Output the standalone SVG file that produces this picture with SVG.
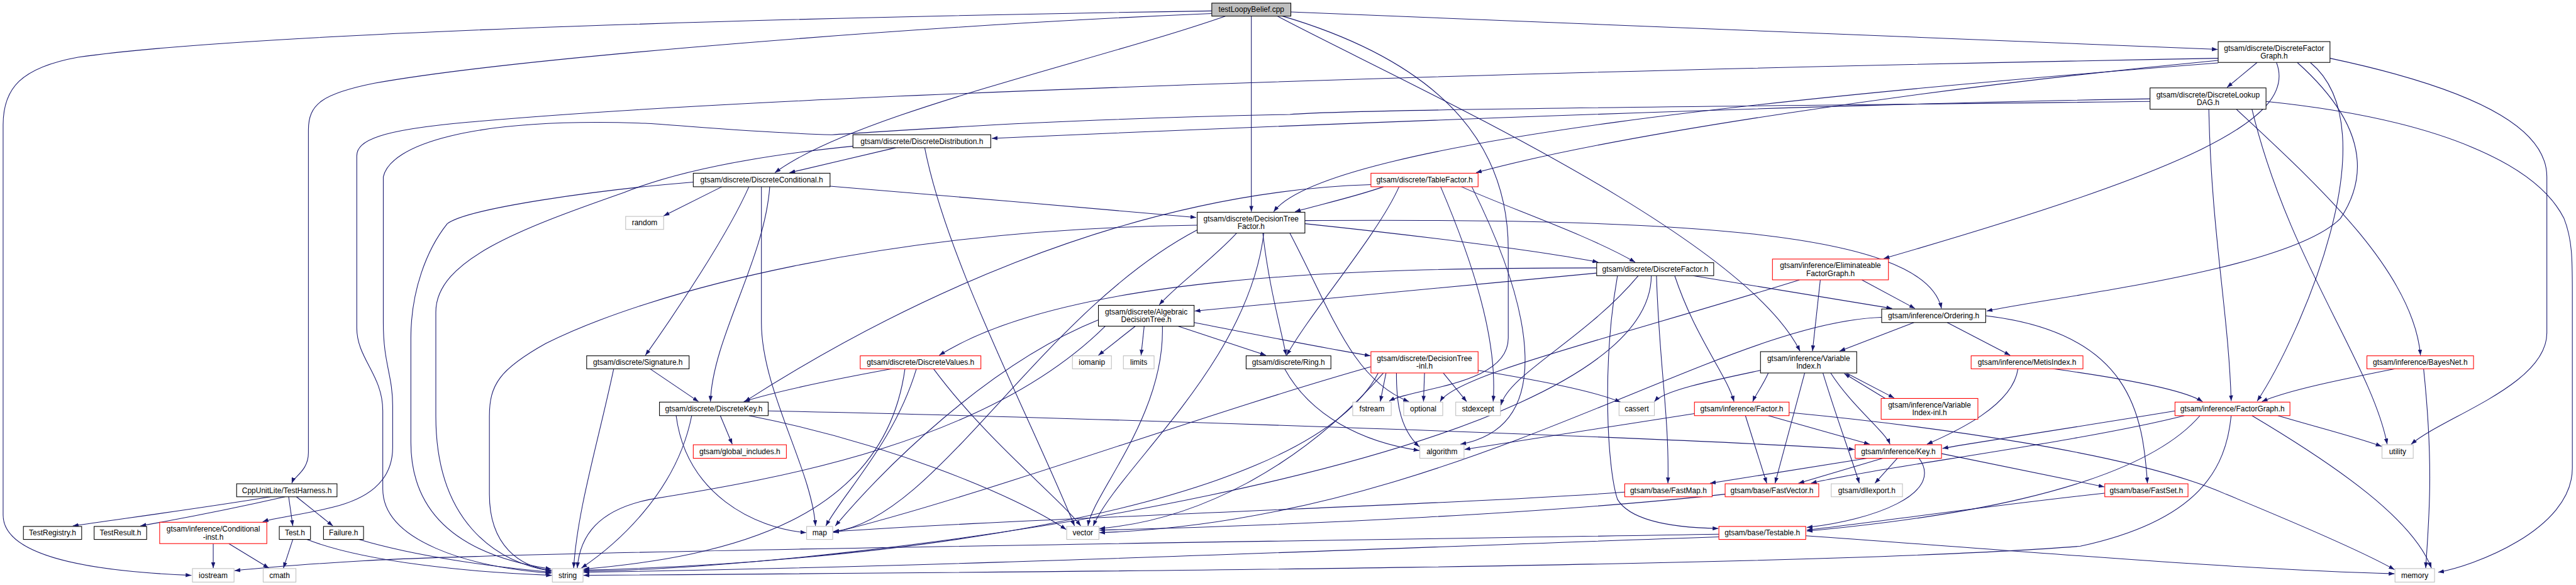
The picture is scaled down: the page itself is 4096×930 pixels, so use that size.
<svg xmlns="http://www.w3.org/2000/svg" width="4096" height="930" viewBox="0 0 4096 930">
<defs>
<marker id="a" markerUnits="userSpaceOnUse" markerWidth="11" markerHeight="8" viewBox="0 0 11 8" refX="11" refY="4" orient="auto"><path d="M0,0 L11,4 L0,8 z" fill="#191970"/></marker>
</defs>
<style>
.e path{fill:none;stroke:#191970;stroke-width:1.3;marker-end:url(#a)}
.n rect{fill:#fff;stroke:#000;stroke-width:1.3}
.n.r rect{stroke:#f00}
.n.g rect{stroke:#bfbfbf}
.n.c rect{fill:#bfbfbf}
text{font-family:"Liberation Sans",Arial,Helvetica,sans-serif;font-size:14.5px;text-anchor:middle;fill:#000}
</style>
<rect x="0" y="0" width="4096" height="930" fill="#fff"/>
<g transform="scale(0.82697)">
<g id="edges" class="e">
<path d="M2330,21 C1600,32 500,60 150,110 C40,130 6,170 6,240 L6,990 C6,1080 220,1100 368,1106"/>
<path d="M2330,26 C1800,48 1000,110 720,160 C620,180 593,200 593,250 L593,870 C593,905 566,915 561,929"/>
<path d="M2356,31 C2100,120 1640,220 1490,332"/>
<path d="M2406,31 L2406,407"/>
<path d="M2482,23 L4264,95"/>
<path d="M2456,31 C2700,160 3350,450 3461,675"/>
<path d="M2466,31 C2800,130 2900,300 2900,480 L2900,650 C2900,740 2720,745 2671,771"/>
<path d="M4340,120 L4282,168"/>
<path d="M4265,112 C3000,135 1500,180 900,235 C730,250 686,270 686,300 L686,630 C686,690 736,720 736,790 L736,940 C736,1040 900,1090 1060,1102"/>
<path d="M4265,116 C3700,170 3100,260 2838,332"/>
<path d="M4265,121 C3500,180 2550,270 2449,407"/>
<path d="M4377,120 C4420,230 4200,330 3622,497"/>
<path d="M4417,120 C4540,230 4560,330 4500,420 C4400,520 3950,570 3820,598"/>
<path d="M4442,120 C4600,250 4420,650 4340,771"/>
<path d="M4480,112 C4800,180 4897,260 4897,340 L4897,640 C4897,740 4700,800 4636,854"/>
<path d="M4134,190 C3500,200 2500,240 1907,266"/>
<path d="M4300,210 C4450,350 4640,520 4654,683"/>
<path d="M4247,210 C4252,450 4285,600 4290,771"/>
<path d="M4134,195 C3300,205 2600,210 2480,220 C2000,230 1750,250 1600,259 C1450,255 1300,240 1240,237 C900,225 750,280 737,340 L737,620 C737,700 755,720 755,780 L755,860 C755,930 700,960 640,975 C580,990 530,995 505,1003"/>
<path d="M4330,210 C4400,500 4560,700 4590,854"/>
<path d="M4357,195 C4700,230 4880,320 4930,420 C4946,460 4946,500 4946,560 L4946,900 C4946,1020 4750,1090 4688,1100"/>
<path d="M1722,284 L1518,332"/>
<path d="M1640,281 C1450,300 1300,330 1200,370 C1000,440 838,500 838,600 L838,800 C838,1000 950,1080 1060,1098"/>
<path d="M1778,284 C1820,500 1980,800 2066,1011"/>
<path d="M1388,359 L1276,415"/>
<path d="M1440,359 C1400,450 1300,600 1241,683"/>
<path d="M1596,358 C1800,375 2100,400 2300,418"/>
<path d="M1464,359 L1464,620 C1464,750 1560,900 1568,1011"/>
<path d="M1333,350 C1150,365 900,400 860,430 C820,480 790,560 790,650 L790,850 C790,1000 900,1070 1060,1094"/>
<path d="M1480,359 C1470,500 1370,650 1366,772"/>
<path d="M2660,359 C2600,380 2530,395 2490,407"/>
<path d="M2810,359 C2900,400 3050,450 3144,504"/>
<path d="M2690,359 C2650,450 2520,600 2474,683"/>
<path d="M2636,355 C2150,370 1700,600 1432,772"/>
<path d="M2830,359 C2950,600 2990,820 2808,854"/>
<path d="M2770,359 C2830,500 2880,650 2871,772"/>
<path d="M2378,448 C2330,500 2260,550 2229,586"/>
<path d="M2428,448 C2440,550 2460,620 2473,683"/>
<path d="M2509,430 C2700,450 2950,480 3073,504"/>
<path d="M2509,424 C3200,420 3700,440 3733,593"/>
<path d="M2302,442 C2000,600 1800,1000 1602,1022"/>
<path d="M2302,433 C1700,440 1250,560 1050,660 C960,710 941,740 941,800 L941,950 C941,1050 1000,1090 1061,1097"/>
<path d="M2430,448 C2400,700 2150,900 2102,1011"/>
<path d="M2480,448 C2560,600 2600,730 2709,772"/>
<path d="M3070,525 C2800,550 2500,580 2297,598"/>
<path d="M3070,515 C2600,515 2050,530 1806,683"/>
<path d="M3255,530 L3638,593"/>
<path d="M3220,530 C3260,650 3320,720 3334,772"/>
<path d="M3175,530 C3175,900 1600,1095 1122,1098"/>
<path d="M3150,530 C3050,650 2900,720 2886,779"/>
<path d="M3185,530 C3190,700 3210,800 3207,929"/>
<path d="M3110,530 C3080,700 3090,900 3110,960 C3140,1010 3250,1015 3304,1016"/>
<path d="M3580,538 L3682,593"/>
<path d="M3500,538 L3485,675"/>
<path d="M3460,538 C3100,650 2800,720 2769,772"/>
<path d="M3680,620 L3537,675"/>
<path d="M3744,620 L3865,683"/>
<path d="M3818,607 C4100,640 4120,800 4129,929"/>
<path d="M3618,610 C3300,620 2800,1000 2114,1024"/>
<path d="M3550,717 L3642,765"/>
<path d="M3625,766 L3546,718"/>
<path d="M3400,717 C3390,740 3375,760 3370,772"/>
<path d="M3385,712 C3300,730 3200,750 3181,772"/>
<path d="M3520,717 C3560,780 3625,830 3634,854"/>
<path d="M3470,717 L3413,929"/>
<path d="M3505,717 C3530,800 3560,880 3575,929"/>
<path d="M1250,709 L1343,772"/>
<path d="M1180,709 C1150,850 1110,980 1103,1092"/>
<path d="M1715,709 C1600,730 1500,750 1430,772"/>
<path d="M1762,709 C1720,850 1620,950 1588,1011"/>
<path d="M1795,709 C1900,850 2030,950 2078,1011"/>
<path d="M1740,709 C1700,1000 1400,1070 1122,1094"/>
<path d="M2183,627 L2112,683"/>
<path d="M2200,627 L2194,683"/>
<path d="M2265,627 L2434,683"/>
<path d="M2296,620 C2450,650 2550,670 2635,684"/>
<path d="M2112,615 C1900,700 1700,900 1606,1011"/>
<path d="M2235,627 C2240,800 2100,950 2092,1011"/>
<path d="M2125,627 C1900,850 1500,920 1250,960 C1150,980 1115,1030 1110,1092"/>
<path d="M2470,709 C2520,800 2620,850 2729,866"/>
<path d="M2665,717 L2654,772"/>
<path d="M2739,717 L2737,772"/>
<path d="M2775,717 L2820,772"/>
<path d="M2842,712 C2950,730 3060,750 3116,773"/>
<path d="M2685,717 C2685,760 2687,820 2729,859"/>
<path d="M2636,705 C2300,800 1900,950 1602,1024"/>
<path d="M2660,717 C2500,900 2300,1000 2114,1016"/>
<path d="M2650,717 C2500,1000 1600,1085 1122,1096"/>
<path d="M3948,709 C4100,730 4200,750 4235,772"/>
<path d="M3880,709 C3870,780 3760,830 3705,854"/>
<path d="M4605,709 C4500,730 4400,750 4349,772"/>
<path d="M4660,709 C4680,900 4670,1000 4664,1092"/>
<path d="M1385,799 L1408,854"/>
<path d="M1477,790 C2000,800 3200,840 3566,864"/>
<path d="M1330,799 C1300,950 1180,1050 1118,1092"/>
<path d="M1440,799 C1700,850 1950,950 2050,1018"/>
<path d="M1300,799 C1320,950 1450,1015 1550,1024"/>
<path d="M3258,795 C3100,820 2900,850 2816,864"/>
<path d="M3400,799 L3595,854"/>
<path d="M3356,799 L3397,929"/>
<path d="M3440,793 C3700,818 4100,870 4280,950 C4450,1020 4560,1070 4604,1095"/>
<path d="M4182,790 C4000,820 3800,850 3735,862"/>
<path d="M4200,799 C4000,850 3600,900 3482,929"/>
<path d="M4230,799 C4100,950 3700,1000 3474,1021"/>
<path d="M4380,799 C4450,820 4530,840 4579,858"/>
<path d="M4290,799 C4280,900 4230,1000 4000,1050 C3500,1090 2000,1100 1122,1106"/>
<path d="M4330,799 C4500,900 4640,1000 4675,1092"/>
<path d="M3590,881 L3288,929"/>
<path d="M3620,881 L3458,929"/>
<path d="M3648,881 L3605,929"/>
<path d="M3733,872 L4046,936"/>
<path d="M3690,881 C3740,950 3600,1000 3474,1014"/>
<path d="M3124,946 C2800,970 2000,995 1602,1022"/>
<path d="M3317,950 C3000,985 2500,1010 2114,1019"/>
<path d="M4047,948 C3800,975 3600,1005 3474,1019"/>
<path d="M3305,1027 C2500,1040 1000,1060 700,1078 C580,1085 500,1092 451,1097"/>
<path d="M3305,1032 C2500,1060 1800,1090 1122,1100"/>
<path d="M3472,1030 C3900,1060 4300,1095 4604,1103"/>
<path d="M520,955 C400,975 250,995 140,1011"/>
<path d="M548,955 C460,975 360,995 270,1011"/>
<path d="M555,955 L563,1011"/>
<path d="M570,955 L640,1011"/>
<path d="M410,1045 L410,1092"/>
<path d="M440,1045 L517,1092"/>
<path d="M563,1037 L545,1092"/>
<path d="M590,1037 C700,1080 900,1100 1061,1106"/>
<path d="M690,1037 C800,1070 950,1090 1061,1100"/>
</g>
<g id="n_test" class="n c"><rect x="2330" y="6" width="152" height="25"/><text x="2406" y="23.5">testLoopyBelief.cpp</text></g>
<g id="n_dfg" class="n"><rect x="4265" y="80" width="215" height="40"/><text x="4372.5" y="97.5">gtsam/discrete/DiscreteFactor</text><text x="4372.5" y="112.5">Graph.h</text></g>
<g id="n_dag" class="n"><rect x="4134" y="169" width="223" height="41"/><text x="4245.5" y="187">gtsam/discrete/DiscreteLookup</text><text x="4245.5" y="202">DAG.h</text></g>
<g id="n_ddist" class="n"><rect x="1640" y="259" width="265" height="25"/><text x="1772.5" y="276.5">gtsam/discrete/DiscreteDistribution.h</text></g>
<g id="n_dcond" class="n"><rect x="1333" y="333" width="263" height="26"/><text x="1464.5" y="351">gtsam/discrete/DiscreteConditional.h</text></g>
<g id="n_tf" class="n r"><rect x="2636" y="333" width="206" height="26"/><text x="2739" y="351">gtsam/discrete/TableFactor.h</text></g>
<g id="n_random" class="n g"><rect x="1203" y="416" width="73" height="25"/><text x="1239.5" y="433.5">random</text></g>
<g id="n_dtf" class="n"><rect x="2302" y="408" width="207" height="40"/><text x="2405.5" y="425.5">gtsam/discrete/DecisionTree</text><text x="2405.5" y="440.5">Factor.h</text></g>
<g id="n_df" class="n"><rect x="3070" y="505" width="225" height="25"/><text x="3182.5" y="522.5">gtsam/discrete/DiscreteFactor.h</text></g>
<g id="n_elim" class="n r"><rect x="3408" y="498" width="223" height="40"/><text x="3519.5" y="515.5">gtsam/inference/Eliminateable</text><text x="3519.5" y="530.5">FactorGraph.h</text></g>
<g id="n_adt" class="n"><rect x="2112" y="587" width="184" height="40"/><text x="2204" y="604.5">gtsam/discrete/Algebraic</text><text x="2204" y="619.5">DecisionTree.h</text></g>
<g id="n_ord" class="n"><rect x="3618" y="594" width="200" height="26"/><text x="3718" y="612">gtsam/inference/Ordering.h</text></g>
<g id="n_sig" class="n"><rect x="1128" y="684" width="197" height="25"/><text x="1226.5" y="701.5">gtsam/discrete/Signature.h</text></g>
<g id="n_dv" class="n r"><rect x="1654" y="684" width="232" height="25"/><text x="1770" y="701.5">gtsam/discrete/DiscreteValues.h</text></g>
<g id="n_iomanip" class="n g"><rect x="2062" y="684" width="75" height="25"/><text x="2099.5" y="701.5">iomanip</text></g>
<g id="n_limits" class="n g"><rect x="2160" y="684" width="59" height="25"/><text x="2189.5" y="701.5">limits</text></g>
<g id="n_ring" class="n"><rect x="2396" y="684" width="163" height="25"/><text x="2477.5" y="701.5">gtsam/discrete/Ring.h</text></g>
<g id="n_dtinl" class="n r"><rect x="2636" y="676" width="206" height="41"/><text x="2739" y="694">gtsam/discrete/DecisionTree</text><text x="2739" y="709">-inl.h</text></g>
<g id="n_vi" class="n"><rect x="3385" y="676" width="185" height="41"/><text x="3477.5" y="694">gtsam/inference/Variable</text><text x="3477.5" y="709">Index.h</text></g>
<g id="n_metis" class="n r"><rect x="3790" y="684" width="215" height="25"/><text x="3897.5" y="701.5">gtsam/inference/MetisIndex.h</text></g>
<g id="n_bn" class="n r"><rect x="4551" y="684" width="205" height="25"/><text x="4653.5" y="701.5">gtsam/inference/BayesNet.h</text></g>
<g id="n_dk" class="n"><rect x="1268" y="773" width="209" height="26"/><text x="1372.5" y="791">gtsam/discrete/DiscreteKey.h</text></g>
<g id="n_fstream" class="n g"><rect x="2601" y="773" width="74" height="26"/><text x="2638" y="791">fstream</text></g>
<g id="n_optional" class="n g"><rect x="2699" y="773" width="75" height="26"/><text x="2736.5" y="791">optional</text></g>
<g id="n_stdexcept" class="n g"><rect x="2799" y="773" width="86" height="26"/><text x="2842" y="791">stdexcept</text></g>
<g id="n_cassert" class="n g"><rect x="3113" y="773" width="68" height="26"/><text x="3147" y="791">cassert</text></g>
<g id="n_factor" class="n r"><rect x="3258" y="773" width="182" height="26"/><text x="3349" y="791">gtsam/inference/Factor.h</text></g>
<g id="n_viinl" class="n r"><rect x="3617" y="766" width="186" height="40"/><text x="3710" y="783.5">gtsam/inference/Variable</text><text x="3710" y="798.5">Index-inl.h</text></g>
<g id="n_fg" class="n r"><rect x="4182" y="773" width="221" height="26"/><text x="4292.5" y="791">gtsam/inference/FactorGraph.h</text></g>
<g id="n_gi" class="n r"><rect x="1333" y="855" width="179" height="26"/><text x="1422.5" y="873">gtsam/global_includes.h</text></g>
<g id="n_algorithm" class="n g"><rect x="2730" y="855" width="85" height="26"/><text x="2772.5" y="873">algorithm</text></g>
<g id="n_key" class="n r"><rect x="3567" y="855" width="166" height="26"/><text x="3650" y="873">gtsam/inference/Key.h</text></g>
<g id="n_utility" class="n g"><rect x="4580" y="855" width="60" height="26"/><text x="4610" y="873">utility</text></g>
<g id="n_th" class="n"><rect x="455" y="930" width="193" height="25"/><text x="551.5" y="947.5">CppUnitLite/TestHarness.h</text></g>
<g id="n_fastmap" class="n r"><rect x="3124" y="930" width="168" height="25"/><text x="3208" y="947.5">gtsam/base/FastMap.h</text></g>
<g id="n_fastvector" class="n r"><rect x="3317" y="930" width="180" height="25"/><text x="3407" y="947.5">gtsam/base/FastVector.h</text></g>
<g id="n_dllexport" class="n g"><rect x="3521" y="930" width="137" height="25"/><text x="3589.5" y="947.5">gtsam/dllexport.h</text></g>
<g id="n_fastset" class="n r"><rect x="4047" y="930" width="160" height="25"/><text x="4127" y="947.5">gtsam/base/FastSet.h</text></g>
<g id="n_treg" class="n"><rect x="45" y="1012" width="112" height="25"/><text x="101" y="1029.5">TestRegistry.h</text></g>
<g id="n_tres" class="n"><rect x="181" y="1012" width="101" height="25"/><text x="231.5" y="1029.5">TestResult.h</text></g>
<g id="n_condinst" class="n r"><rect x="307" y="1004" width="206" height="41"/><text x="410" y="1022">gtsam/inference/Conditional</text><text x="410" y="1037">-inst.h</text></g>
<g id="n_test_h" class="n"><rect x="537" y="1012" width="60" height="25"/><text x="567" y="1029.5">Test.h</text></g>
<g id="n_failure" class="n"><rect x="622" y="1012" width="77" height="25"/><text x="660.5" y="1029.5">Failure.h</text></g>
<g id="n_map" class="n g"><rect x="1551" y="1012" width="50" height="25"/><text x="1576" y="1029.5">map</text></g>
<g id="n_vector" class="n g"><rect x="2051" y="1012" width="62" height="25"/><text x="2082" y="1029.5">vector</text></g>
<g id="n_testable" class="n r"><rect x="3305" y="1012" width="167" height="25"/><text x="3388.5" y="1029.5">gtsam/base/Testable.h</text></g>
<g id="n_iostream" class="n g"><rect x="370" y="1093" width="80" height="26"/><text x="410" y="1111">iostream</text></g>
<g id="n_cmath" class="n g"><rect x="506" y="1093" width="63" height="26"/><text x="537.5" y="1111">cmath</text></g>
<g id="n_string" class="n g"><rect x="1062" y="1093" width="59" height="26"/><text x="1091.5" y="1111">string</text></g>
<g id="n_memory" class="n g"><rect x="4605" y="1093" width="76" height="26"/><text x="4643" y="1111">memory</text></g>
</g>
</svg>
